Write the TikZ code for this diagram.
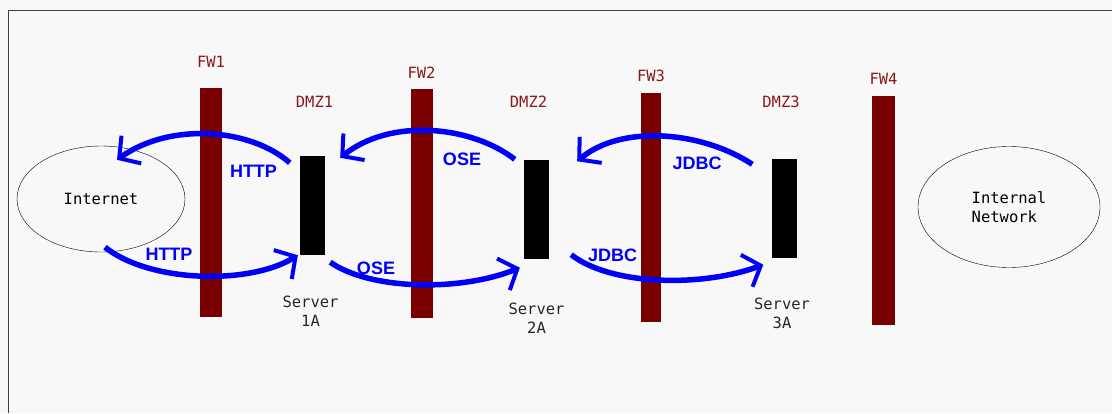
\documentclass[tikz,border=0pt]{standalone}
\usepackage{fontspec}
\setmainfont{Liberation Sans}
\setsansfont{Liberation Sans}
\setmonofont{DejaVu Sans Mono}
\usetikzlibrary{arrows.meta,positioning,shapes.geometric}
\definecolor{fwred}{RGB}{122,0,0}
\definecolor{fwtext}{RGB}{140,25,25}
\definecolor{flowblue}{RGB}{0,0,250}
\definecolor{paper}{RGB}{248,248,248}

\begin{document}
\begin{tikzpicture}[
  x=1pt, y=-1pt,
  font=\ttfamily\fontsize{15.5}{19}\selectfont,
  fw/.style={fill=fwred, minimum width=22pt, minimum height=229pt, inner sep=0pt},
  fwlabel/.style={text=fwtext, inner sep=0pt},
  server/.style={fill=black, minimum width=25pt, minimum height=99pt, inner sep=0pt},
  srvlabel/.style={align=center, inner sep=0pt, text=black!85},
  net/.style={draw, ellipse, thin, inner sep=0pt},
  proto/.style={text=flowblue, font=\sffamily\bfseries\fontsize{18}{20}\selectfont, inner sep=0pt},
  flow/.style={draw=flowblue, line width=5.5pt, -{Straight Barb[length=15pt,width=34pt,line width=4pt]}}
]
\useasboundingbox[fill=paper] (0,0) rectangle (1112,413);
\draw[thick, black!75] (8,413) -- (8,10) -- (1112,10);

\node[fw] (fw1) at (211,202) {};
\node[fw] (fw2) at (421.5,203.5) {};
\node[fw, minimum width=20pt] (fw3) at (651,207) {};
\node[fw, minimum width=23pt] (fw4) at (883.5,210.5) {};
\node[fwlabel, above=20pt of fw1] (fw1lbl) {FW1};
\node[fwlabel, above=10pt of fw2] (fw2lbl) {FW2};
\node[fwlabel, above=10.5pt of fw3] (fw3lbl) {FW3};
\node[fwlabel, above=11.5pt of fw4] (fw4lbl) {FW4};

\node[server] (s1) at (312.5,205.5) {};
\node[server] (s2) at (536.5,209) {};
\node[server] (s3) at (784,208) {};
\node[fwlabel, above=48pt of s1, xshift=2pt] (dmz1) {DMZ1};
\node[fwlabel, above=52pt of s2, xshift=-8pt] (dmz2) {DMZ2};
\node[fwlabel, above=50pt of s3, xshift=-3pt] (dmz3) {DMZ3};
\node[srvlabel, below=41pt of s1, xshift=-2pt] (s1lbl) {Server\\1A};
\node[srvlabel, below=44pt of s2] (s2lbl) {Server\\2A};
\node[srvlabel, below=40pt of s3, xshift=-2pt] (s3lbl) {Server\\3A};

\node[net, minimum width=168pt, minimum height=106pt] (inet) at (101,199) {Internet};
\node[net, minimum width=182pt, minimum height=121pt, align=left] (intra) at (1009,207) {Internal\\Network};

\draw[flow] ([xshift=-10pt,yshift=-7pt]s1.north west) .. controls (250,128) and (170,122) .. ([xshift=16pt,yshift=-14pt]inet.north);
\draw[flow] ([xshift=4pt,yshift=5pt]inet.south) .. controls (150,283) and (250,285) .. ([xshift=-2pt]s1.south west);
\draw[flow] ([xshift=-9pt]s2.north west) .. controls (470,125) and (390,118) .. ([xshift=15pt,yshift=-2pt]s1.north east);
\draw[flow] ([xshift=5pt,yshift=-7pt]s1.south east) .. controls (370,290) and (460,292) .. ([xshift=-4pt,yshift=-9pt]s2.south west);
\draw[flow] ([xshift=-19pt,yshift=-6pt]s3.north west) .. controls (700,130) and (620,125) .. ([xshift=28pt,yshift=-2pt]s2.north east);
\draw[flow] ([xshift=22pt,yshift=4pt]s2.south east) .. controls (610,285) and (700,288) .. ([xshift=-8pt,yshift=-7pt]s3.south west);

\node[proto] (http1) at (253.5,171) {HTTP};
\node[proto] (http2) at (169,254.5) {HTTP};
\node[proto] (ose1) at (462,159.5) {OSE};
\node[proto] (ose2) at (376,268) {OSE};
\node[proto] (jdbc1) at (697,163) {JDBC};
\node[proto] (jdbc2) at (612.5,255.5) {JDBC};
\end{tikzpicture}
\end{document}
